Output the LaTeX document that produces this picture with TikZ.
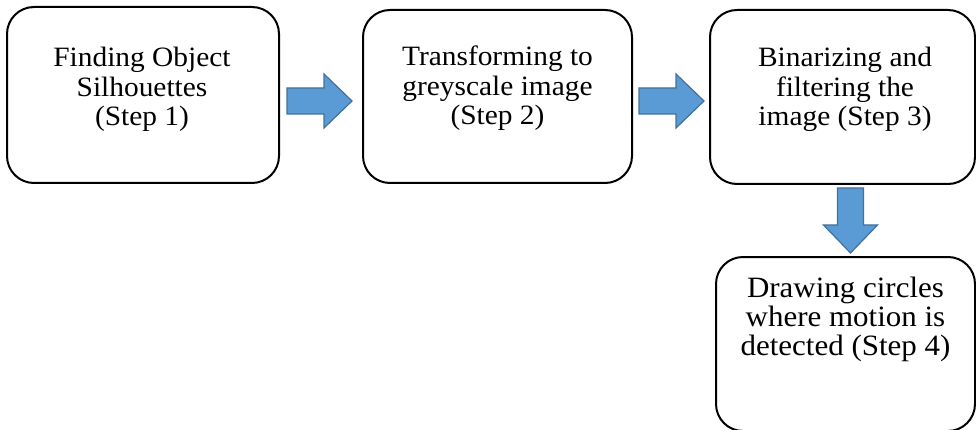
\documentclass[tikz,border=0pt]{standalone}
\usepackage{fontspec}
\setmainfont[FakeStretch=1.05]{Liberation Serif}
\definecolor{arrowfill}{HTML}{5B9BD5}
\definecolor{arrowedge}{HTML}{41719C}
\newcommand{\stepfont}{\fontsize{28pt}{29.5pt}\selectfont}
\newcommand{\bigstepfont}{\fontsize{29.5pt}{29pt}\selectfont}
\tikzset{
  stepbox/.style={draw=black, line width=2pt, rounded corners=27pt, inner sep=0pt, outer sep=0pt},
  steptext/.style={anchor=base, inner sep=0pt, font=\stepfont},
  blockarrow/.style={fill=arrowfill, draw=arrowedge, line width=1.2pt, line join=miter},
  pics/fatarrow/.style={code={
    \draw[blockarrow] (0,-13) -- (37,-13) -- (37,-27) -- (65,0) -- (37,27) -- (37,13) -- (0,13) -- cycle;
  }}
}
\begin{document}
\begin{tikzpicture}[x=1pt, y=-1pt]
  \useasboundingbox (0,0) rectangle (976,430);
  \clip (0,0) rectangle (976,430);

  % process boxes
  \node[stepbox, minimum width=272pt, minimum height=176pt] (b1) at (143,95) {};
  \node[stepbox, minimum width=269pt, minimum height=173pt] (b2) at (497.5,96.5) {};
  \node[stepbox, minimum width=265pt, minimum height=174pt] (b3) at (842.5,97) {};
  \node[stepbox, minimum width=259pt, minimum height=174pt] (b4) at (845.5,344) {};

  % box captions
  \node[steptext] (t1) at (142,67)
    {\parbox[t]{260pt}{\centering\stepfont Finding Object\\Silhouettes\\(Step 1)}};
  \node[steptext] (t2) at (497.5,66)
    {\parbox[t]{260pt}{\centering\stepfont Transforming to\\greyscale image\\(Step 2)}};
  \node[steptext] (t3) at (845,67)
    {\parbox[t]{260pt}{\centering\stepfont Binarizing and\\filtering the\\image (Step 3)}};
  \node[steptext] (t4) at (845.5,297)
    {\parbox[t]{260pt}{\centering\bigstepfont Drawing circles\\where motion is\\detected (Step 4)}};

  % block arrows between the steps
  \pic at (287,101) {fatarrow};
  \pic at (639,101) {fatarrow};
  \pic[rotate=-90] at (850.5,188) {fatarrow};
\end{tikzpicture}
\end{document}
